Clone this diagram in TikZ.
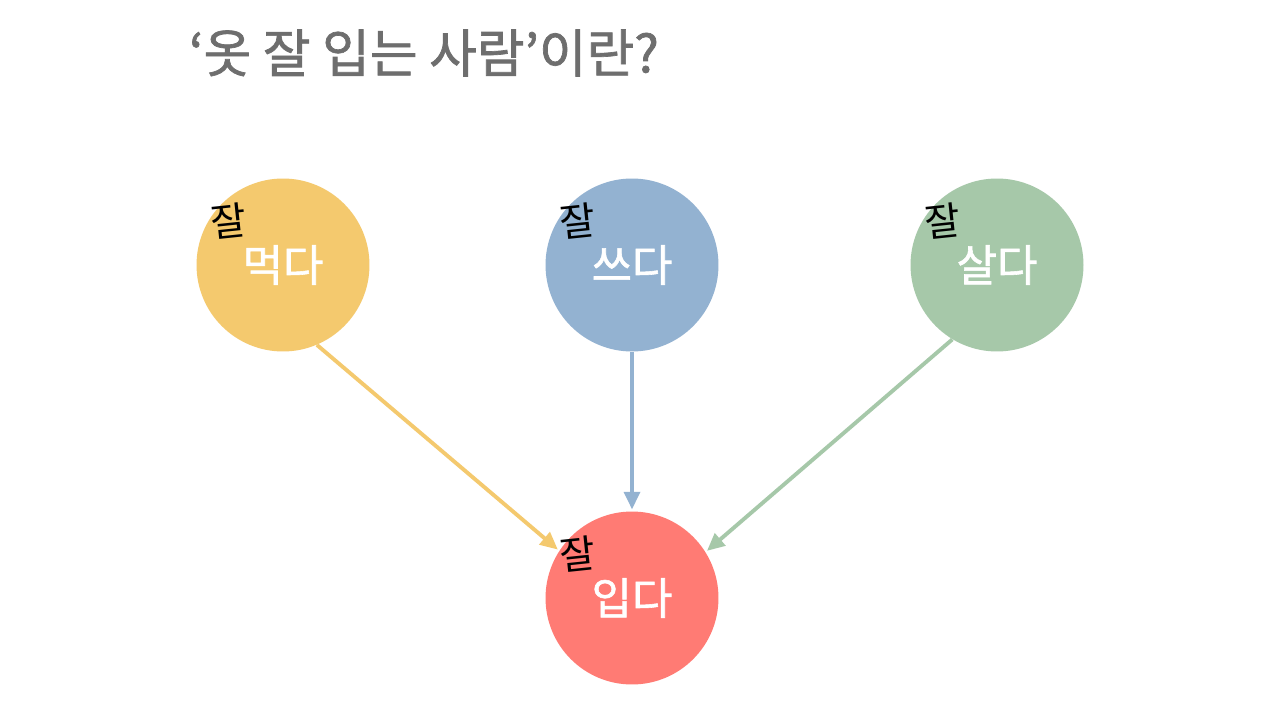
\documentclass[tikz,border=0pt]{standalone}
\usepackage{fontspec}
\usepackage{tikz}
\usetikzlibrary{arrows.meta, positioning}
\newfontfamily\cjk{Noto Sans CJK KR}
\newfontfamily\cjkmid[FakeBold=1.3]{Noto Sans CJK KR}
\definecolor{eatcol}{HTML}{F4C96E}
\definecolor{writecol}{HTML}{93B2D1}
\definecolor{livecol}{HTML}{A6C8A9}
\definecolor{wearcol}{HTML}{FF7B74}
\definecolor{titlegray}{HTML}{6E6E6E}

\begin{document}
\begin{tikzpicture}[x=0.02cm, y=-0.02cm,
    >={Triangle[length=10pt, width=9pt]},
    bubble/.style={circle, minimum size=3.46cm, inner sep=0pt, text=white,
      font=\cjkmid\fontsize{25}{30}\selectfont},
    jal/.style={inner sep=0pt, text=black, font=\cjk\fontsize{22}{24}\selectfont},
    link/.style={->, line width=2.2pt, shorten >=1pt}]
    \useasboundingbox (0,0) rectangle (1280,719);
    \fill[white] (0,0) rectangle (1280,719);

    \node[anchor=west, text=titlegray, font=\cjkmid\fontsize{29.5}{34}\selectfont]
      (title) at (183,53) {‘옷 잘 입는 사람’이란?};

    \foreach \n/\x/\y/\c/\t in {meok/283/265/eatcol/먹다, sseu/632/265/writecol/쓰다,
        sal/997/265/livecol/살다, ip/632/598/wearcol/입다} {
      \node[bubble, fill=\c] (\n) at (\x,\y) {\t};
      \node[jal, rotate=6] (\n-jal) at (\x-54,\y-44) {잘};
    }

    \draw[link, eatcol] (meok.-67) -- (ip.147);
    \draw[link, writecol] (sseu) -- (ip);
    \draw[link, livecol] (sal.-121) -- (ip.32);
  \end{tikzpicture}
\end{document}
